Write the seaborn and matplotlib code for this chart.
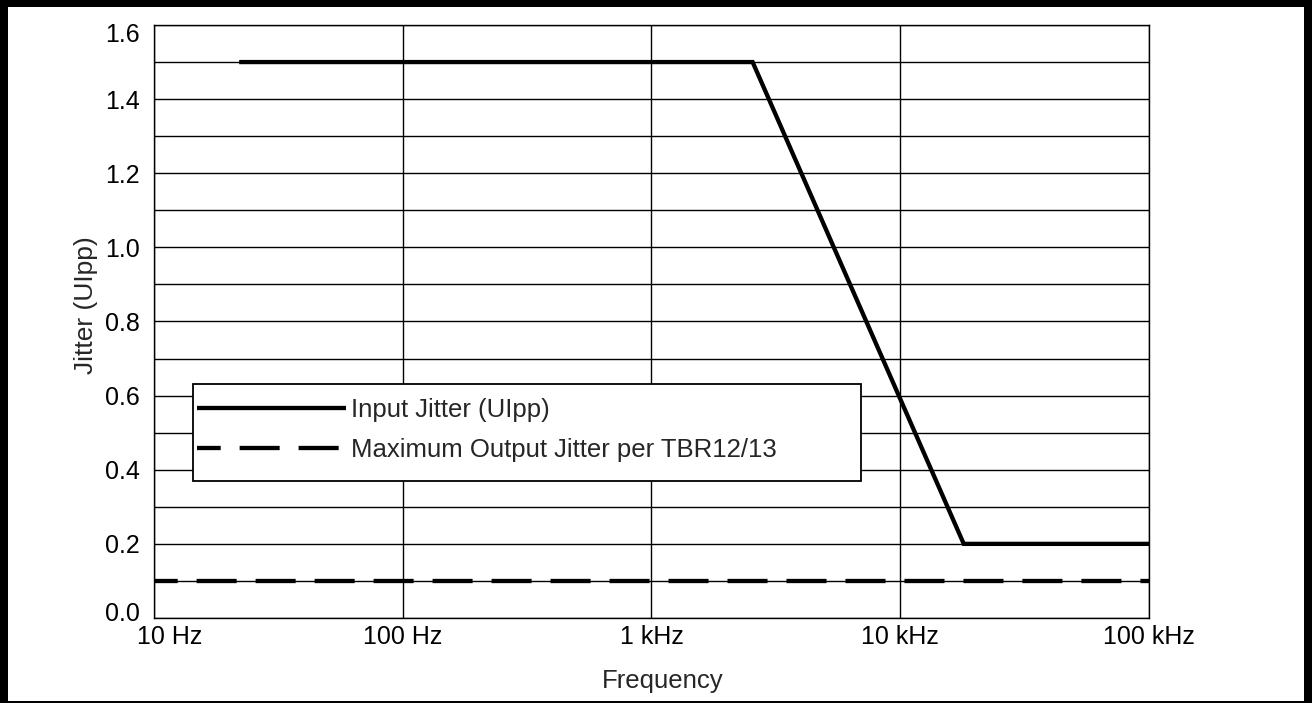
import matplotlib.pyplot as plt
import matplotlib.transforms as mtransforms
import numpy as np
import pandas as pd
import seaborn as sns
from matplotlib.patches import Rectangle
from matplotlib.ticker import FixedLocator, NullLocator

# Data
input_freq = [22, 2550, 18000, 100000]
input_jitter = [1.5, 1.5, 0.2, 0.2]
max_out_freq = [10, 100000]
max_out_jitter = [0.1, 0.1]

x_ticks = [10, 100, 1000, 10000, 100000]
x_tick_labels = ['10 Hz', '100 Hz', '1 kHz', '10 kHz', '100 kHz']
y_major = np.arange(0, 1.61, 0.2)
y_minor = np.arange(0, 1.61, 0.1)

df_in = pd.DataFrame({'freq': input_freq, 'jitter': input_jitter})
df_out = pd.DataFrame({'freq': max_out_freq, 'jitter': max_out_jitter})

sns.set_style('white')
plt.rcParams['font.family'] = ['Liberation Sans', 'DejaVu Sans']

fig = plt.figure(figsize=(13.12, 7.03), dpi=100)
ax = fig.add_axes([0.11738, 0.12091, 0.75838, 0.84353])

lw = 3.1
sns.lineplot(data=df_in, x='freq', y='jitter', ax=ax, color='black', lw=lw,
             label='Input Jitter (UIpp)', sort=False, zorder=3)
sns.lineplot(data=df_out, x='freq', y='jitter', ax=ax, color='black', lw=lw,
             label='Maximum Output Jitter per TBR12/13', sort=False, zorder=3)
lines = ax.get_lines()
lines[0].set_solid_capstyle('butt')
lines[0].set_solid_joinstyle('miter')
lines[1].set_linestyle((3.8, (9.3, 4.4)))
lines[1].set_dash_capstyle('butt')

# axes
ax.set_xscale('log')
ax.set_xlim(10, 100000)
ax.set_ylim(0, 1.6)
ax.xaxis.set_major_locator(FixedLocator(x_ticks))
ax.xaxis.set_minor_locator(NullLocator())
ax.set_xticklabels(x_tick_labels)
ax.yaxis.set_major_locator(FixedLocator(y_major))
ax.yaxis.set_minor_locator(FixedLocator(y_minor))
ax.set_yticklabels([f'{v:.1f}' for v in y_major])
ax.tick_params(axis='both', which='both', length=0, labelsize=18, colors='black')
ax.tick_params(axis='y', pad=10)
ax.tick_params(axis='x', pad=5)

# end labels sit inside the axis range, as in the reference
def shift(label, dx_px, dy_px):
    off = mtransforms.ScaledTranslation(dx_px / 100, dy_px / 100, fig.dpi_scale_trans)
    label.set_transform(label.get_transform() + off)

ylabels = ax.get_yticklabels()
shift(ylabels[0], 0, 7)
shift(ylabels[-1], 0, -8)
shift(ax.get_xticklabels()[0], 16, 0)

ax.grid(True, which='major', axis='x', color='black', lw=1.0)
ax.grid(True, which='both', axis='y', color='black', lw=1.0)
ax.set_axisbelow(True)
for s in ax.spines.values():
    s.set_color('black')
    s.set_linewidth(1.0)

ax.set_xlabel('Frequency', fontsize=18.5)
ax.set_ylabel('Jitter (UIpp)', fontsize=19)
ax.xaxis.set_label_coords(0.5116, -0.086)
ax.yaxis.set_label_coords(-0.056, 0.528)

# legend: white box with black edge, entries placed inside it
ax.add_patch(Rectangle((0.0392, 0.2310), 0.6714, 0.1636, transform=ax.transAxes,
                       facecolor='white', edgecolor='black', lw=1.3, zorder=4))
leg = ax.legend(loc='upper left', bbox_to_anchor=(0.0432, 0.3710),
                fontsize=18.5, frameon=False, borderpad=0, borderaxespad=0,
                handlelength=5.8, handletextpad=0.2, labelspacing=0.62)
leg.set_zorder(5)

# figure border (thick left/top/right, thin bottom)
W, H = 1312, 703
for x0, y0, w, h in [(0, 0, 8, H), (0, H - 7, W, 7), (W - 8, 0, 8, H), (0, 0, W, 2)]:
    fig.add_artist(Rectangle((x0 / W, y0 / H), w / W, h / H,
                             transform=fig.transFigure, color='black', lw=0))

fig.savefig('out.png', dpi=100)
